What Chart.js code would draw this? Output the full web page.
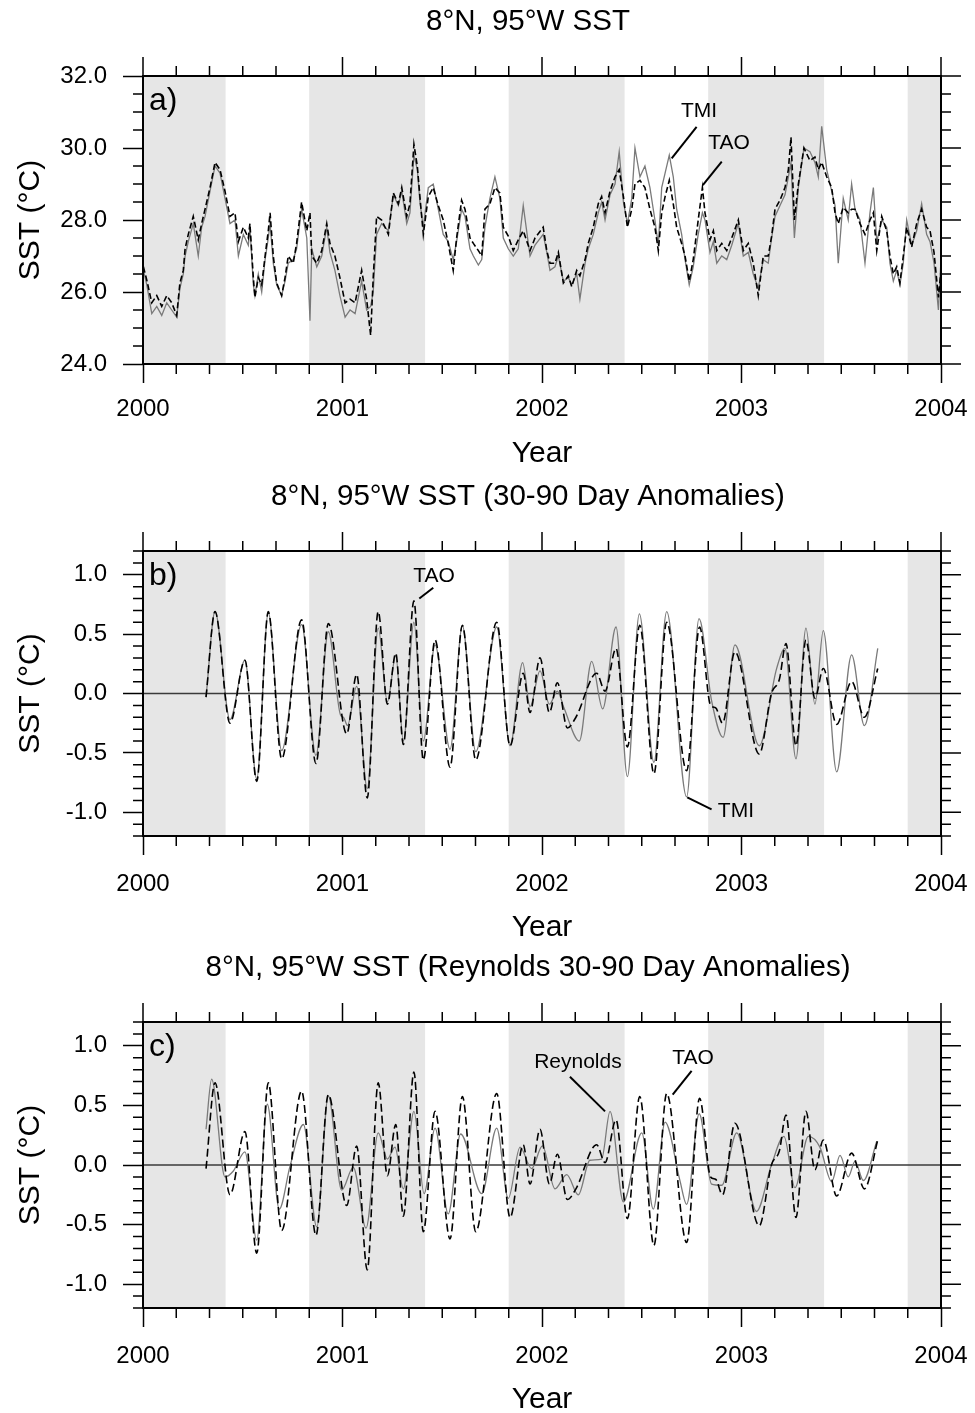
<!DOCTYPE html>
<html>
<head>
<meta charset="utf-8">
<script src="https://cdn.jsdelivr.net/npm/chart.js@4.4.1/dist/chart.umd.min.js"></script>
<style>
  html, body { margin: 0; padding: 0; background: #fff; }
  #wrap { position: relative; width: 975px; height: 1413px; }
  .panel { position: absolute; left: 0; width: 975px; height: 471px; }
</style>
</head>
<body>
<div id="wrap">
  <div class="panel" style="top:0px"><canvas id="chartA" width="975" height="471"></canvas></div>
  <div class="panel" style="top:471px"><canvas id="chartB" width="975" height="471"></canvas></div>
  <div class="panel" style="top:942px"><canvas id="chartC" width="975" height="471"></canvas></div>
</div>
<script>
'use strict';

// axis ticks
var yearTicks = [2000, 2001, 2002, 2003, 2004];
var sstTicks = [24, 26, 28, 30, 32];
var anomTicks = [-1.0, -0.5, 0.0, 0.5, 1.0];

// shaded Nov-May seasons (decimal years)
var shadeStart = [2000.0, 2000.833, 2001.833, 2002.833, 2003.833];
var shadeEnd = [2000.414, 2001.414, 2002.414, 2003.414, 2004.0];

// panel a: daily SST (decimal year, degC)
var timeA = [
  2000.002, 2000.019, 2000.044, 2000.069, 2000.094, 2000.119, 2000.144, 2000.169, 2000.185, 2000.202,
  2000.211, 2000.227, 2000.252, 2000.277, 2000.294, 2000.311, 2000.336, 2000.361, 2000.386, 2000.411,
  2000.436, 2000.461, 2000.478, 2000.503, 2000.528, 2000.536, 2000.553, 2000.561, 2000.578, 2000.595,
  2000.612, 2000.628, 2000.637, 2000.653, 2000.670, 2000.695, 2000.712, 2000.728, 2000.753, 2000.770,
  2000.795, 2000.821, 2000.837, 2000.846, 2000.871, 2000.896, 2000.921, 2000.937, 2000.962, 2000.987,
  2001.013, 2001.038, 2001.063, 2001.096, 2001.121, 2001.141, 2001.154, 2001.171, 2001.196, 2001.230,
  2001.255, 2001.280, 2001.297, 2001.322, 2001.338, 2001.358, 2001.375, 2001.388, 2001.405, 2001.430,
  2001.455, 2001.480, 2001.505, 2001.530, 2001.555, 2001.572, 2001.597, 2001.614, 2001.639, 2001.656,
  2001.681, 2001.698, 2001.714, 2001.739, 2001.764, 2001.789, 2001.806, 2001.831, 2001.856, 2001.881,
  2001.906, 2001.940, 2001.965, 2002.006, 2002.024, 2002.040, 2002.065, 2002.082, 2002.107, 2002.132,
  2002.149, 2002.174, 2002.190, 2002.216, 2002.232, 2002.257, 2002.282, 2002.299, 2002.316, 2002.341,
  2002.366, 2002.387, 2002.408, 2002.428, 2002.450, 2002.466, 2002.491, 2002.516, 2002.541, 2002.566,
  2002.583, 2002.600, 2002.617, 2002.638, 2002.658, 2002.675, 2002.700, 2002.717, 2002.738, 2002.758,
  2002.783, 2002.804, 2002.817, 2002.842, 2002.859, 2002.876, 2002.901, 2002.926, 2002.951, 2002.984,
  2003.009, 2003.034, 2003.059, 2003.084, 2003.109, 2003.134, 2003.151, 2003.168, 2003.193, 2003.218,
  2003.235, 2003.248, 2003.265, 2003.285, 2003.313, 2003.343, 2003.368, 2003.385, 2003.402, 2003.427,
  2003.452, 2003.469, 2003.485, 2003.510, 2003.535, 2003.552, 2003.569, 2003.594, 2003.619, 2003.644,
  2003.661, 2003.678, 2003.703, 2003.728, 2003.744, 2003.761, 2003.778, 2003.794, 2003.811, 2003.828,
  2003.853, 2003.878, 2003.903, 2003.928, 2003.945, 2003.965, 2003.987, 2004.000
];
var taoA = [
  26.7, 26.33, 25.7, 25.9, 25.6, 25.9, 25.7, 25.35, 26.25, 26.6,
  27.2, 27.6, 28.1, 27.45, 27.9, 28.3, 28.9, 29.6, 29.4, 28.8,
  28.1, 28.2, 27.4, 27.8, 27.5, 27.9, 26.4, 25.85, 26.4, 26.2,
  27.0, 27.7, 28.2, 27.0, 26.25, 25.9, 26.4, 27.0, 26.8, 27.35,
  28.5, 27.7, 28.2, 27.0, 26.8, 27.15, 27.9, 27.35, 27.0, 26.4,
  25.7, 25.8, 25.7, 26.6, 25.8, 24.8, 26.4, 28.1, 28.0, 27.6,
  28.75, 28.45, 28.9, 28.1, 28.45, 30.1, 29.5, 28.65, 27.6, 28.65,
  28.9, 28.4, 28.0, 27.35, 26.6, 27.5, 28.55, 28.3, 27.5, 27.35,
  27.15, 27.0, 28.3, 28.45, 28.9, 28.75, 27.8, 27.55, 27.15, 27.45,
  27.7, 27.15, 27.5, 27.8, 27.15, 26.8, 26.8, 27.1, 26.25, 26.45,
  26.15, 26.6, 26.45, 26.9, 27.35, 27.8, 28.45, 28.65, 28.2, 28.8,
  29.2, 29.4, 28.65, 27.8, 28.3, 29.0, 29.1, 28.9, 28.3, 27.8,
  27.15, 28.2, 28.65, 29.1, 28.45, 27.8, 27.35, 27.0, 26.3, 26.9,
  28.0, 28.9, 28.2, 27.45, 27.7, 27.15, 27.35, 27.15, 27.5, 28.0,
  27.15, 27.35, 26.8, 25.9, 27.0, 27.0, 27.55, 28.3, 28.55, 28.9,
  29.4, 30.3, 28.0, 29.0, 30.0, 29.65, 29.75, 29.4, 29.6, 29.2,
  28.9, 28.2, 27.9, 28.35, 28.2, 28.3, 28.3, 27.9, 27.6, 28.0,
  28.2, 27.15, 28.1, 27.7, 27.0, 26.5, 26.7, 26.25, 27.0, 27.8,
  27.25, 27.9, 28.3, 27.8, 27.7, 27.1, 25.85, 26.6
];
var tmiA = [
  26.6, 26.2, 25.4, 25.6, 25.35, 25.7, 25.5, 25.3, 26.1, 26.5,
  27.0, 27.4, 27.9, 27.0, 27.8, 28.1, 28.8, 29.5, 29.3, 28.6,
  27.9, 28.0, 27.0, 27.6, 27.3, 27.8, 26.2, 25.9, 26.5, 26.0,
  26.9, 27.5, 27.9, 26.8, 26.2, 25.9, 26.3, 26.8, 26.9, 27.2,
  28.3, 27.5, 25.2, 27.2, 26.7, 27.0, 27.8, 27.1, 26.6, 25.9,
  25.3, 25.5, 25.4, 26.3, 25.5, 25.6, 26.0, 27.6, 27.9, 27.7,
  28.7, 28.4, 28.8, 27.9, 28.2, 29.8, 29.4, 28.5, 27.8, 28.9,
  29.0, 28.3, 27.6, 27.4, 26.9, 27.4, 28.3, 28.1, 27.2, 27.0,
  26.75, 26.9, 27.8, 28.6, 29.2, 28.6, 27.5, 27.2, 27.0, 27.2,
  28.4, 27.0, 27.3, 27.6, 27.1, 26.6, 26.7, 27.0, 26.3, 26.4,
  26.2, 26.5, 25.8, 26.8, 27.2, 27.6, 28.2, 28.5, 28.0, 28.7,
  29.0, 29.9, 28.5, 27.9, 28.6, 30.0, 29.2, 29.5, 28.9, 28.0,
  27.3, 28.9, 29.3, 29.8, 29.2, 28.3, 27.6, 26.9, 26.2, 26.7,
  27.6, 28.2, 28.0, 27.1, 27.4, 26.8, 27.0, 26.9, 27.3, 27.9,
  27.0, 27.1, 26.5, 26.1, 26.9, 26.8, 27.5, 28.1, 28.4, 28.7,
  29.2, 29.6, 27.5, 28.9, 30.0, 29.9, 29.6, 29.2, 30.6, 29.4,
  28.8, 28.4, 26.8, 28.6, 28.0, 29.0, 28.3, 28.0, 26.8, 28.2,
  28.9, 27.4, 28.0, 27.8, 26.8, 26.3, 26.6, 26.2, 26.8, 28.0,
  27.3, 27.7, 28.45, 27.6, 27.4, 26.8, 25.5, 26.9
];

// panels b, c: 30-90 day anomalies, turning points
var taoBTime = [
  2000.316, 2000.361, 2000.436, 2000.511, 2000.570, 2000.628, 2000.695, 2000.795, 2000.867, 2000.929,
  2001.021, 2001.071, 2001.124, 2001.179, 2001.225, 2001.267, 2001.305, 2001.358, 2001.405, 2001.464,
  2001.539, 2001.601, 2001.668, 2001.773, 2001.840, 2001.906, 2001.940, 2001.990, 2002.037, 2002.077,
  2002.127, 2002.170, 2002.274, 2002.316, 2002.371, 2002.428, 2002.490, 2002.561, 2002.625, 2002.725,
  2002.790, 2002.845, 2002.870, 2002.905, 2002.967, 2003.089, 2003.150, 2003.190, 2003.223, 2003.273,
  2003.323, 2003.368, 2003.410, 2003.477, 2003.552, 2003.616, 2003.683
];
var taoBVal = [
  -0.03, 0.69, -0.25, 0.28, -0.74, 0.69, -0.55, 0.62, -0.59, 0.59,
  -0.34, 0.16, -0.88, 0.69, -0.09, 0.34, -0.43, 0.78, -0.56, 0.45,
  -0.62, 0.575, -0.56, 0.60, -0.44, 0.17, -0.16, 0.30, -0.16, 0.09,
  -0.29, -0.20, 0.17, 0.02, 0.38, -0.45, 0.575, -0.675, 0.60, -0.65,
  0.56, -0.10, -0.12, -0.25, 0.35, -0.51, 0.00, 0.12, 0.42, -0.44,
  0.45, -0.04, 0.21, -0.26, 0.10, -0.20, 0.21
];
var tmiBTime = [
  2000.316, 2000.361, 2000.436, 2000.511, 2000.570, 2000.628, 2000.695, 2000.795, 2000.867, 2000.929,
  2000.990, 2001.005, 2001.025, 2001.071, 2001.124, 2001.179, 2001.225, 2001.267, 2001.305, 2001.358,
  2001.405, 2001.464, 2001.539, 2001.601, 2001.668, 2001.773, 2001.840, 2001.903, 2001.940, 2001.990,
  2002.037, 2002.077, 2002.110, 2002.187, 2002.249, 2002.304, 2002.371, 2002.428, 2002.488, 2002.561,
  2002.625, 2002.725, 2002.787, 2002.850, 2002.908, 2002.967, 2003.089, 2003.176, 2003.218, 2003.273,
  2003.323, 2003.368, 2003.410, 2003.477, 2003.552, 2003.616, 2003.683
];
var tmiBVal = [
  -0.03, 0.69, -0.22, 0.28, -0.72, 0.68, -0.48, 0.58, -0.52, 0.52,
  -0.18, -0.20, -0.27, 0.06, -0.80, 0.55, -0.07, 0.32, -0.40, 0.60,
  -0.40, 0.41, -0.47, 0.57, -0.49, 0.56, -0.44, 0.26, -0.11, 0.19,
  -0.09, 0.02, -0.12, -0.40, 0.27, -0.13, 0.56, -0.70, 0.67, -0.58,
  0.69, -0.87, 0.63, -0.06, -0.37, 0.41, -0.44, 0.21, 0.38, -0.55,
  0.55, -0.09, 0.53, -0.66, 0.325, -0.27, 0.38
];
var reyCTime = [
  2000.316, 2000.344, 2000.411, 2000.453, 2000.511, 2000.570, 2000.623, 2000.683, 2000.737, 2000.804,
  2000.871, 2000.929, 2000.996, 2001.054, 2001.118, 2001.179, 2001.225, 2001.263, 2001.305, 2001.358,
  2001.409, 2001.464, 2001.530, 2001.592, 2001.698, 2001.773, 2001.831, 2001.890, 2001.948, 2002.002,
  2002.065, 2002.124, 2002.182, 2002.240, 2002.299, 2002.341, 2002.408, 2002.500, 2002.558, 2002.617,
  2002.690, 2002.725, 2002.788, 2002.850, 2002.901, 2002.976, 2003.075, 2003.150, 2003.213, 2003.268,
  2003.335, 2003.393, 2003.452, 2003.494, 2003.535, 2003.569, 2003.611, 2003.678
];
var reyCVal = [
  0.30, 0.72, -0.10, -0.05, 0.11, -0.63, 0.51, -0.37, -0.01, 0.34,
  -0.52, 0.58, -0.21, -0.02, -0.53, 0.27, 0.05, 0.15, -0.20, 0.45,
  -0.24, 0.31, -0.41, 0.26, -0.24, 0.31, -0.28, 0.15, -0.03, 0.16,
  -0.20, -0.08, -0.25, 0.04, 0.05, 0.45, -0.31, 0.27, -0.37, 0.36,
  -0.12, -0.33, 0.43, -0.16, -0.17, 0.27, -0.39, 0.00, 0.24, -0.19,
  0.24, 0.15, -0.14, 0.08, -0.10, 0.03, -0.13, 0.20
];

var FONT = "'Liberation Sans', Arial, Helvetica, sans-serif";
var SHADE = '#e6e6e6';
var CANVAS_H = 471;

Chart.defaults.font.family = FONT;
Chart.defaults.color = '#000';

function points(times, vals) {
  return vals.map(function(v, i) { return {x: times[i], y: v}; });
}

// per-panel decorations: title, label, minor ticks, text callouts (data coords)
var panelInfo = {
  chartA: {
    title: '8°N, 95°W SST', titleMid: 22,
    label: 'a)', yMajor: sstTicks, yMinorStep: 0.5, zero: false,
    notes: [
      {text: 'TMI', x: 2002.787, y: 31.01, from: [2002.650, 29.71], to: [2002.775, 30.59]},
      {text: 'TAO', x: 2002.937, y: 30.125, from: [2002.901, 29.62], to: [2002.806, 28.97]}
    ]
  },
  chartB: {
    title: '8°N, 95°W SST (30-90 Day Anomalies)', titleMid: 26,
    label: 'b)', yMajor: anomTicks, yMinorStep: 0.1, zero: true,
    notes: [
      {text: 'TAO', x: 2001.459, y: 0.99, from: [2001.385, 0.80], to: [2001.455, 0.89]},
      {text: 'TMI', x: 2002.972, y: -0.99, from: [2002.728, -0.875], to: [2002.850, -0.975]}
    ]
  },
  chartC: {
    title: '8°N, 95°W SST (Reynolds 30-90 Day Anomalies)', titleMid: 26,
    label: 'c)', yMajor: anomTicks, yMinorStep: 0.1, zero: true,
    notes: [
      {text: 'Reynolds', x: 2002.180, y: 0.86, from: [2002.140, 0.74], to: [2002.316, 0.45]},
      {text: 'TAO', x: 2002.757, y: 0.90, from: [2002.750, 0.79], to: [2002.655, 0.59]}
    ]
  }
};

var panelDecor = {
  id: 'panelDecor',
  beforeDatasetsDraw: function(chart) {
    var info = panelInfo[chart.canvas.id];
    var ctx = chart.ctx, a = chart.chartArea, x = chart.scales.x, y = chart.scales.y;
    ctx.save();
    ctx.fillStyle = SHADE;
    shadeStart.forEach(function(s, i) {
      var x0 = x.getPixelForValue(s), x1 = x.getPixelForValue(shadeEnd[i]);
      ctx.fillRect(x0, a.top, x1 - x0, a.bottom - a.top);
    });
    if (info.zero) {
      var py = y.getPixelForValue(0);
      ctx.strokeStyle = '#3a3a3a';
      ctx.lineWidth = 1.5;
      ctx.beginPath();
      ctx.moveTo(a.left, py);
      ctx.lineTo(a.right, py);
      ctx.stroke();
    }
    ctx.restore();
  },
  afterDatasetsDraw: function(chart) {
    var info = panelInfo[chart.canvas.id];
    var ctx = chart.ctx, a = chart.chartArea, x = chart.scales.x, y = chart.scales.y;
    ctx.save();
    ctx.strokeStyle = '#000';
    ctx.lineWidth = 1.5;
    ctx.beginPath();
    // two-month ticks on x, year ticks on top
    for (var k = 0; k <= 24; k++) {
      var px = x.getPixelForValue(2000 + k / 6);
      var major = k % 6 === 0;
      var len = major ? 19 : 10;
      ctx.moveTo(px, a.top);
      ctx.lineTo(px, a.top - len);
      if (!major) {
        ctx.moveTo(px, a.bottom);
        ctx.lineTo(px, a.bottom + len);
      }
    }
    // minor ticks on y, all ticks on right
    var n = Math.round((y.max - y.min) / info.yMinorStep);
    for (var j = 0; j <= n; j++) {
      var v = y.min + j * info.yMinorStep;
      var isMajor = info.yMajor.some(function(m) { return Math.abs(m - v) < 1e-6; });
      var py = y.getPixelForValue(v);
      var l = isMajor ? 20 : 10;
      ctx.moveTo(a.right, py);
      ctx.lineTo(a.right + l, py);
      if (!isMajor) {
        ctx.moveTo(a.left, py);
        ctx.lineTo(a.left - l, py);
      }
    }
    ctx.stroke();

    ctx.lineWidth = 2;
    ctx.strokeRect(a.left, a.top, a.right - a.left, a.bottom - a.top);

    // callouts
    ctx.fillStyle = '#000';
    ctx.font = '21px ' + FONT;
    ctx.textAlign = 'center';
    ctx.textBaseline = 'middle';
    ctx.lineWidth = 2;
    info.notes.forEach(function(nt) {
      ctx.beginPath();
      ctx.moveTo(x.getPixelForValue(nt.from[0]), y.getPixelForValue(nt.from[1]));
      ctx.lineTo(x.getPixelForValue(nt.to[0]), y.getPixelForValue(nt.to[1]));
      ctx.stroke();
      ctx.fillText(nt.text, x.getPixelForValue(nt.x), y.getPixelForValue(nt.y));
    });

    ctx.font = '32px ' + FONT;
    ctx.textAlign = 'left';
    ctx.textBaseline = 'top';
    ctx.fillText(info.label, a.left + 6, a.top + 9);

    // panel title, sits a little left of the plot centre as in the original
    ctx.font = '29.5px ' + FONT;
    ctx.textAlign = 'center';
    ctx.textBaseline = 'middle';
    ctx.fillText(info.title, (a.left + a.right) / 2 - 14, info.titleMid);
    ctx.restore();
  }
};

function makePanel(id, p) {
  var ctx = document.getElementById(id);
  return new Chart(ctx, {
    type: 'line',
    data: { datasets: p.datasets },
    options: {
      responsive: false,
      animation: false,
      devicePixelRatio: 1,
      events: [],
      layout: { padding: { left: 0, right: 34, top: p.plotTop, bottom: 0 } },
      elements: { point: { radius: 0 } },
      plugins: {
        legend: { display: false },
        tooltip: { enabled: false },
        title: { display: false }
      },
      scales: {
        x: {
          type: 'linear',
          min: 2000,
          max: 2004,
          afterBuildTicks: function(s) { s.ticks = yearTicks.map(function(v) { return {value: v}; }); },
          afterFit: function(s) {
            s.height = CANVAS_H - p.plotBottom;
            s.paddingLeft = 0;
            s.paddingRight = 0;
          },
          ticks: { font: { size: 24 }, color: '#000', padding: p.tickPad, maxRotation: 0,
                   callback: function(v) { return String(v); } },
          grid: { drawOnChartArea: false, drawTicks: true, tickLength: 19, tickWidth: 1.5, tickColor: '#000' },
          border: { display: false },
          title: { display: true, text: 'Year', font: { size: 30 }, color: '#000', padding: { top: 0, bottom: p.yearPad } }
        },
        y: {
          min: p.yMin,
          max: p.yMax,
          afterBuildTicks: function(s) { s.ticks = p.yTicks.map(function(v) { return {value: v}; }); },
          afterFit: function(s) { s.width = 143; },
          ticks: { font: { size: 24 }, color: '#000', padding: 16,
                   callback: function(v) { return Number(v).toFixed(1); } },
          grid: { drawOnChartArea: false, drawTicks: true, tickLength: 20, tickWidth: 1.5, tickColor: '#000' },
          border: { display: false },
          title: { display: true, text: 'SST (°C)', font: { size: 30 }, color: '#000', padding: { top: 13, bottom: 0 } }
        }
      }
    },
    plugins: [panelDecor]
  });
}

function taoLine(data, dash) {
  return { label: 'TAO', data: data, borderColor: '#000', borderWidth: 1.6, borderDash: dash,
           pointRadius: 0, fill: false, cubicInterpolationMode: 'monotone' };
}
function grayLine(label, data) {
  return { label: label, data: data, borderColor: '#7a7a7a', borderWidth: 1.3,
           pointRadius: 0, fill: false, cubicInterpolationMode: 'monotone' };
}

var lineA = taoLine(points(timeA, taoA), [6, 3]);
lineA.cubicInterpolationMode = 'default';
var grayA = grayLine('TMI', points(timeA, tmiA));
grayA.cubicInterpolationMode = 'default';

makePanel('chartA', {
  plotTop: 76, plotBottom: 364, tickPad: 12, yearPad: -1,
  yMin: 24, yMax: 32, yTicks: sstTicks,
  datasets: [lineA, grayA]
});

makePanel('chartB', {
  plotTop: 80, plotBottom: 365, tickPad: 15, yearPad: -4,
  yMin: -1.2, yMax: 1.2, yTicks: anomTicks,
  datasets: [taoLine(points(taoBTime, taoBVal), [8, 4]), grayLine('TMI', points(tmiBTime, tmiBVal))]
});

makePanel('chartC', {
  plotTop: 80, plotBottom: 366, tickPad: 15, yearPad: -5,
  yMin: -1.2, yMax: 1.2, yTicks: anomTicks,
  datasets: [taoLine(points(taoBTime, taoBVal), [8, 4]), grayLine('Reynolds', points(reyCTime, reyCVal))]
});
</script>
</body>
</html>
